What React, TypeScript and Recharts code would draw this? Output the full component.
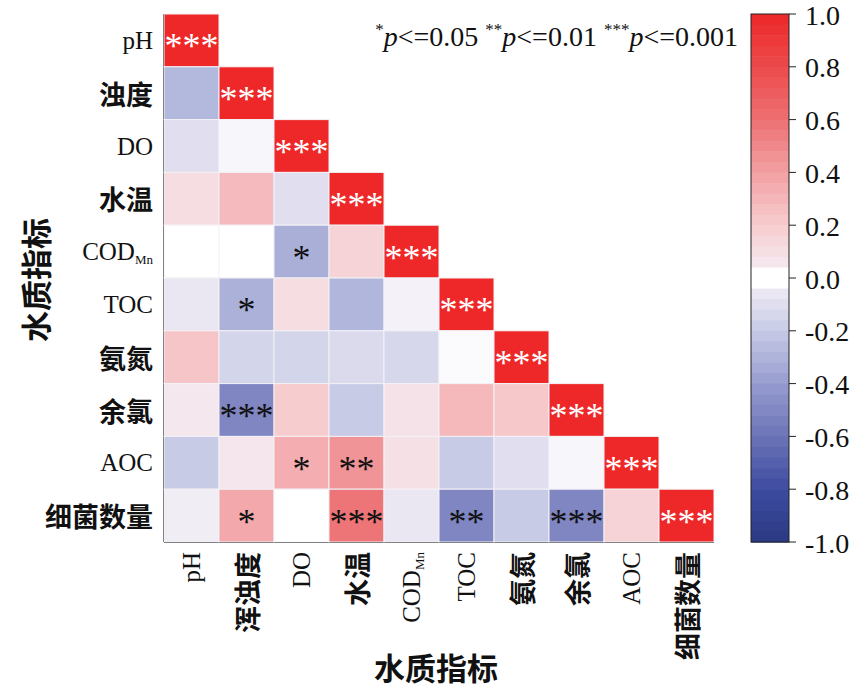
import { ScatterChart, Scatter, XAxis, YAxis, Customized } from 'recharts';

const rowLabels = ['pH', '浊度', 'DO', '水温', 'COD_Mn', 'TOC', '氨氮', '余氯', 'AOC', '细菌数量'];
const colLabels = ['pH', '浑浊度', 'DO', '水温', 'COD_Mn', 'TOC', '氨氮', '余氯', 'AOC', '细菌数量'];

// lower triangle, row by row
const corrRows = [
  [1],
  [-0.28, 1],
  [-0.1, -0.02, 1],
  [0.11, 0.28, -0.1, 1],
  [0, 0, -0.32, 0.16, 1],
  [-0.06, -0.31, 0.11, -0.29, -0.03, 1],
  [0.23, -0.15, -0.15, -0.12, -0.14, -0.01, 1],
  [0.05, -0.51, 0.2, -0.2, 0.08, 0.29, 0.22, 1],
  [-0.2, 0.06, 0.34, 0.45, 0.09, -0.2, -0.1, -0.02, 1],
  [-0.04, 0.36, 0, 0.58, -0.06, -0.51, -0.2, -0.51, 0.16, 1],
];

const sigRows = [
  ['***'],
  ['', '***'],
  ['', '', '***'],
  ['', '', '', '***'],
  ['', '', '*', '', '***'],
  ['', '*', '', '', '', '***'],
  ['', '', '', '', '', '', '***'],
  ['', '***', '', '', '', '', '', '***'],
  ['', '', '*', '**', '', '', '', '', '***'],
  ['', '*', '', '***', '', '**', '', '***', '', '***'],
];

const colorbarTicks = [1, 0.8, 0.6, 0.4, 0.2, 0, -0.2, -0.4, -0.6, -0.8, -1];

const stops: [number, number[]][] = [
  [-1, [43, 57, 132]],
  [-0.8, [61, 75, 160]],
  [-0.6, [108, 116, 183]],
  [-0.4, [150, 156, 207]],
  [-0.2, [199, 203, 230]],
  [-0.05, [236, 232, 243]],
  [0, [255, 255, 255]],
  [0.05, [244, 232, 238]],
  [0.2, [247, 204, 206]],
  [0.4, [242, 160, 163]],
  [0.6, [238, 112, 114]],
  [0.8, [236, 74, 76]],
  [1, [238, 40, 40]],
];

function colorFor(v: number) {
  for (let i = 0; i < stops.length - 1; i++) {
    const [a, ca] = stops[i];
    const [b, cb] = stops[i + 1];
    if (v >= a && v <= b) {
      const t = (v - a) / (b - a);
      const c = ca.map((x, k) => Math.round(x + (cb[k] - x) * t));
      return `rgb(${c[0]},${c[1]},${c[2]})`;
    }
  }
  return 'rgb(238,40,40)';
}

const W = 865;
const H = 690;
const margin = { top: 14, right: 151, bottom: 0, left: 0 };
const Y_W = 164;
const X_H = 148;
const PLOT_W = W - margin.left - margin.right - Y_W;
const PLOT_H = H - margin.top - margin.bottom - X_H;
const CELL_W = PLOT_W / colLabels.length;
const CELL_H = PLOT_H / rowLabels.length;

const serif = "'Times New Roman', 'Liberation Serif', serif";
const cjk = "'Noto Sans CJK SC', 'Noto Sans', sans-serif";
const isCjk = (s: string) => /[\u4e00-\u9fff]/.test(s);

const cells = corrRows.flatMap((row, i) =>
  row.map((r, j) => ({ x: j, y: i, r, sig: sigRows[i][j], diag: i === j }))
);

const idx = colLabels.map((_, i) => i);

function LabelText({ label, ...rest }: any) {
  if (label === 'COD_Mn') {
    return (
      <text {...rest} fontFamily={serif} fontSize={25} fill="#111">
        COD<tspan fontSize={13} dy={7}>Mn</tspan>
      </text>
    );
  }
  if (isCjk(label)) {
    return (
      <text {...rest} fontFamily={cjk} fontWeight={700} fontSize={27} fill="#111">
        {label}
      </text>
    );
  }
  return (
    <text {...rest} fontFamily={serif} fontSize={25} fill="#111">
      {label}
    </text>
  );
}

const YTick = (props: any) => {
  const { x, y, payload } = props;
  return <LabelText label={rowLabels[payload.value]} x={x - 3} y={y} textAnchor="end" dominantBaseline="central" />;
};

const XTick = (props: any) => {
  const { x, y, payload } = props;
  return (
    <g transform={`translate(${x},${y + 2}) rotate(-90)`}>
      <LabelText label={colLabels[payload.value]} x={0} y={0} textAnchor="end" dominantBaseline="central" />
    </g>
  );
};

const CellShape = (props: any) => {
  const { cx, cy, payload } = props;
  return (
    <g>
      <rect
        x={cx - CELL_W / 2}
        y={cy - CELL_H / 2}
        width={CELL_W}
        height={CELL_H}
        fill={colorFor(payload.r)}
        stroke="#f3f1f6"
        strokeWidth={1}
      />
      {payload.sig && (
        <text
          x={cx}
          y={cy + 18}
          textAnchor="middle"
          fontFamily={serif}
          fontSize={36}
          fill={payload.diag ? '#fff' : '#111'}
        >
          {payload.sig}
        </text>
      )}
    </g>
  );
};

const Extras = () => {
  const cbX = 751;
  const cbW = 38;
  const cbTop = margin.top;
  const cbH = PLOT_H;
  const steps = 50;
  const bands = Array.from({ length: steps }, (_, k) => {
    const v = 1 - (2 * (k + 0.5)) / steps;
    return (
      <rect
        key={k}
        x={cbX}
        y={cbTop + (k * cbH) / steps}
        width={cbW}
        height={cbH / steps + 0.6}
        fill={colorFor(Math.abs(v) < 0.03 ? 0 : v)}
      />
    );
  });
  return (
    <g>
      {bands}
      <rect x={cbX} y={cbTop} width={cbW} height={cbH} fill="none" stroke="#222" strokeWidth={1} />
      {colorbarTicks.map((t) => {
        const ty = cbTop + ((1 - t) / 2) * cbH;
        return (
          <g key={t}>
            <line x1={cbX + cbW} x2={cbX + cbW + 7} y1={ty} y2={ty} stroke="#222" strokeWidth={1} />
            <text x={cbX + cbW + 16} y={ty + 1} dominantBaseline="central" fontFamily={serif} fontSize={28} fill="#111">
              {t.toFixed(1)}
            </text>
          </g>
        );
      })}
      <text x={738} y={46} textAnchor="end" fontFamily={serif} fontSize={28} fill="#111">
        <tspan fontSize={17} dy={-11}>*</tspan>
        <tspan fontStyle="italic" dy={11}>p</tspan>
        <tspan>{'<=0.05 '}</tspan>
        <tspan fontSize={17} dy={-11}>**</tspan>
        <tspan fontStyle="italic" dy={11}>p</tspan>
        <tspan>{'<=0.01 '}</tspan>
        <tspan fontSize={17} dy={-11}>***</tspan>
        <tspan fontStyle="italic" dy={11}>p</tspan>
        <tspan>{'<=0.001'}</tspan>
      </text>
      <text x={436} y={666} textAnchor="middle" dominantBaseline="central" fontFamily={cjk} fontWeight={700} fontSize={31} fill="#111">
        水质指标
      </text>
      <text
        transform={`translate(34,280) rotate(-90)`}
        textAnchor="middle"
        dominantBaseline="central"
        fontFamily={cjk}
        fontWeight={700}
        fontSize={31}
        fill="#111"
      >
        水质指标
      </text>
    </g>
  );
};

export default function App() {
  return (
    <div style={{ position: 'absolute', left: 0, top: 0, width: W, height: H, background: '#fff' }}>
      <ScatterChart width={W} height={H} margin={margin}>
        <XAxis
          type="number"
          dataKey="x"
          domain={[-0.5, 9.5]}
          ticks={idx}
          interval={0}
          height={X_H}
          tick={<XTick />}
          tickLine={false}
          axisLine={{ stroke: '#111', strokeWidth: 2 }}
        />
        <YAxis
          type="number"
          dataKey="y"
          domain={[-0.5, 9.5]}
          reversed
          ticks={idx}
          interval={0}
          width={Y_W}
          tick={<YTick />}
          tickLine={false}
          axisLine={{ stroke: '#111', strokeWidth: 2 }}
        />
        <Scatter data={cells} shape={<CellShape />} isAnimationActive={false} />
        <Customized component={<Extras />} />
      </ScatterChart>
    </div>
  );
}
